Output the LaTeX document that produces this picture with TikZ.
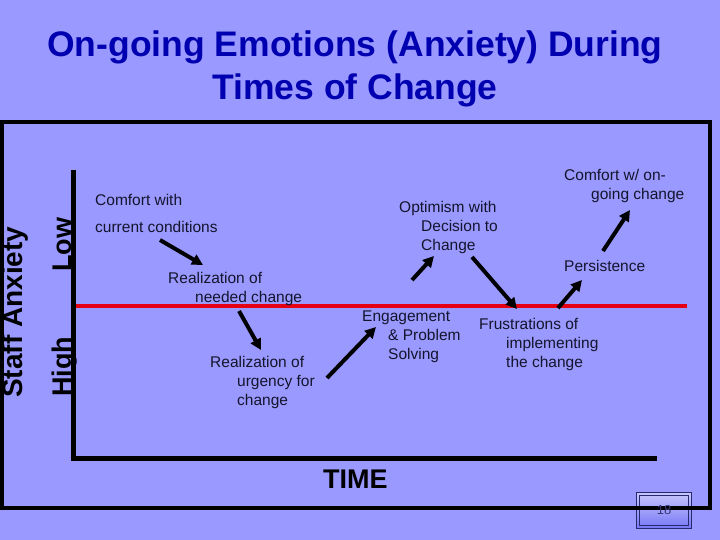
\documentclass[tikz,border=0pt]{standalone}
\usepackage{fontspec}
\setmainfont{Liberation Sans}
\usetikzlibrary{arrows.meta}
\definecolor{bgblue}{RGB}{153,153,255}
\definecolor{titleblue}{RGB}{0,0,176}
\definecolor{txtdark}{RGB}{20,20,45}
\definecolor{redline}{RGB}{230,0,20}
\definecolor{boxline}{RGB}{40,40,110}
\definecolor{pgtext}{RGB}{55,55,120}
\newcommand{\mlines}[1]{\begin{tabular}[t]{@{}l@{}}#1\end{tabular}}
\begin{document}
\begin{tikzpicture}[x=1pt,y=-1pt,
  lbl/.style={anchor=base west,inner sep=0pt,text=txtdark,font=\fontsize{15.5}{19}\selectfont},
  axlbl/.style={anchor=base west,inner sep=0pt,rotate=90,font=\fontsize{27}{30}\selectfont\bfseries},
  flowarrow/.style={line width=4pt,-{Triangle[length=11pt,width=11pt]}},
  ttl/.style={anchor=base,inner sep=0pt,text=titleblue,font=\fontsize{35.5}{40}\selectfont\bfseries}]
% background and bounding box
\fill[bgblue] (0,0) rectangle (720,540);
\useasboundingbox (0,0) rectangle (720,540);
% title
\node[ttl] (t1) at (355,57) {On-going Emotions (Anxiety) During};
\node[ttl] (t2) at (355,100) {Times of Change};
% page number box
\shade[top color={rgb,255:red,200;green,200;blue,255},bottom color={rgb,255:red,120;green,120;blue,245}] (636,492) rectangle (691,528);
\draw[boxline,line width=0.8pt] (636,492) rectangle (691,528);
\draw[boxline,line width=0.8pt] (639,495) rectangle (688,525);
% frame
\draw[line width=4pt] (2,122) rectangle (710,508);
\node[inner sep=0pt,text=pgtext,font=\fontsize{13}{15}\selectfont] (pg) at (664,510) {18};
% axes
\draw[line width=5pt] (73,170) -- (73,458) -- (657,458);
\draw[redline,line width=4pt] (76,306) -- (687,306);
% axis labels
\node[axlbl,font=\fontsize{28}{30}\selectfont\bfseries] (sa) at (22,398) {Staff Anxiety};
\node[axlbl] (low) at (71,272) {Low};
\node[axlbl] (high) at (71,397) {High};
\node[anchor=base west,inner sep=0pt,font=\fontsize{27}{30}\selectfont\bfseries] (time) at (323,488) {TIME};
% labels
\node[lbl] (c1) at (95,206) {Comfort with};
\node[lbl] (c2) at (95,233) {current conditions};
\node[lbl] (rn) at (168,283) {\mlines{Realization of\\\hspace*{27pt}needed change}};
\node[lbl] (ru) at (210,367) {\mlines{Realization of\\\hspace*{27pt}urgency for\\\hspace*{27pt}change}};
\node[lbl] (ep) at (362,321) {\mlines{Engagement\\\hspace*{26pt}\& Problem\\\hspace*{26pt}Solving}};
\node[lbl] (od) at (399,212) {\mlines{Optimism with\\\hspace*{22pt}Decision to\\\hspace*{22pt}Change}};
\node[lbl] (fr) at (479,329) {\mlines{Frustrations of\\\hspace*{27pt}implementing\\\hspace*{27pt}the change}};
\node[lbl] (ps) at (564,271) {Persistence};
\node[lbl] (cw) at (564,181) {\mlines{Comfort w/ on-\\\hspace*{27pt}going change}};
% arrow end points
\coordinate (a1s) at (160,240); \coordinate (a1e) at (203,265);
\coordinate (a2s) at (239,311); \coordinate (a2e) at (261,350);
\coordinate (a3s) at (327,378); \coordinate (a3e) at (376,327);
\coordinate (a4s) at (412,280); \coordinate (a4e) at (434,256);
\coordinate (a5s) at (472,257); \coordinate (a5e) at (517,309);
\coordinate (a6s) at (558,308); \coordinate (a6e) at (582,280);
\coordinate (a7s) at (603,251); \coordinate (a7e) at (630,210);
\draw[flowarrow] (a1s) -- (a1e);
\draw[flowarrow] (a2s) -- (a2e);
\draw[flowarrow] (a3s) -- (a3e);
\draw[flowarrow] (a4s) -- (a4e);
\draw[flowarrow] (a5s) -- (a5e);
\draw[flowarrow] (a6s) -- (a6e);
\draw[flowarrow] (a7s) -- (a7e);
\end{tikzpicture}
\end{document}
